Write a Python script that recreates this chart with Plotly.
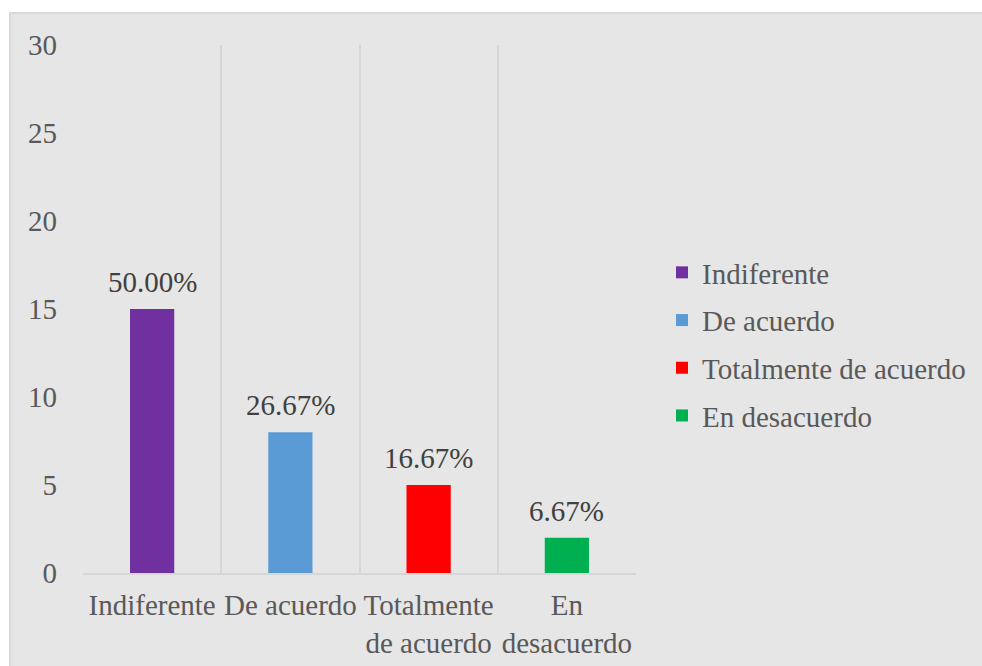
import plotly.graph_objects as go

categories = ["Indiferente", "De acuerdo", "Totalmente de acuerdo", "En desacuerdo"]
tick_labels = ["Indiferente", "De acuerdo", "Totalmente<br>de acuerdo", "En<br>desacuerdo"]
values = [15, 8, 5, 2]
pct_labels = ["50.00%", "26.67%", "16.67%", "6.67%"]
colors = ["#7030a0", "#5b9bd5", "#ff0000", "#00b050"]

FONT = "Liberation Serif, Times New Roman, serif"
TXT = "#595959"
FS = 29

fig = go.Figure()
for i, (cat, v, c) in enumerate(zip(categories, values, colors)):
    fig.add_trace(go.Bar(
        x=[tick_labels[i]], y=[v], name=cat, marker_color=c,
        marker_line_width=0, width=0.32, legendgroup=cat,
        hoverinfo="skip",
    ))
    fig.add_annotation(x=tick_labels[i], y=v, text=pct_labels[i], showarrow=False,
                       yanchor="bottom", yshift=9,
                       font=dict(family=FONT, size=FS, color="#404040"))

W, H = 982, 666
ml, mr, mt, mb = 83, 346, 45, 93
pw, ph = W - ml - mr, H - mt - mb

def px_x(p):
    return (p - ml) / pw

def px_y(p):
    return (H - mb - p) / ph

fig.add_shape(type="rect", xref="paper", yref="paper",
              x0=px_x(10), x1=px_x(W + 5), y0=px_y(H + 5), y1=px_y(13),
              fillcolor="#e6e6e6", line=dict(color="#d9d9d9", width=2), layer="below")

fig.update_layout(
    width=W, height=H,
    margin=dict(l=ml, r=mr, t=mt, b=mb, autoexpand=False),
    paper_bgcolor="white", plot_bgcolor="rgba(0,0,0,0)",
    barmode="overlay",
    font=dict(family=FONT, size=FS, color=TXT),
    showlegend=True,
    legend=dict(x=px_x(662), xanchor="left", y=px_y(344), yanchor="middle",
                font=dict(family=FONT, size=FS, color=TXT),
                tracegroupgap=7, bgcolor="rgba(0,0,0,0)", itemclick=False),
    xaxis=dict(type="category", categoryorder="array", categoryarray=tick_labels,
               tickson="boundaries", showgrid=True, gridcolor="#d6d6d6", gridwidth=1.5,
               showline=True, linecolor="#d6d6d6", linewidth=2, ticks="",
               tickangle=0, automargin=False, ticklabelstandoff=5,
               tickfont=dict(family=FONT, size=FS, color=TXT), fixedrange=True),
    yaxis=dict(range=[0, 30], dtick=5, showgrid=False, zeroline=False, showline=False,
               ticks="", ticklabelstandoff=25, automargin=False,
               tickfont=dict(family=FONT, size=FS, color=TXT), fixedrange=True),
)

fig.write_html("out.html", config={"displayModeBar": False},
               post_script="document.body.style.margin='0';document.body.style.overflow='hidden';")
